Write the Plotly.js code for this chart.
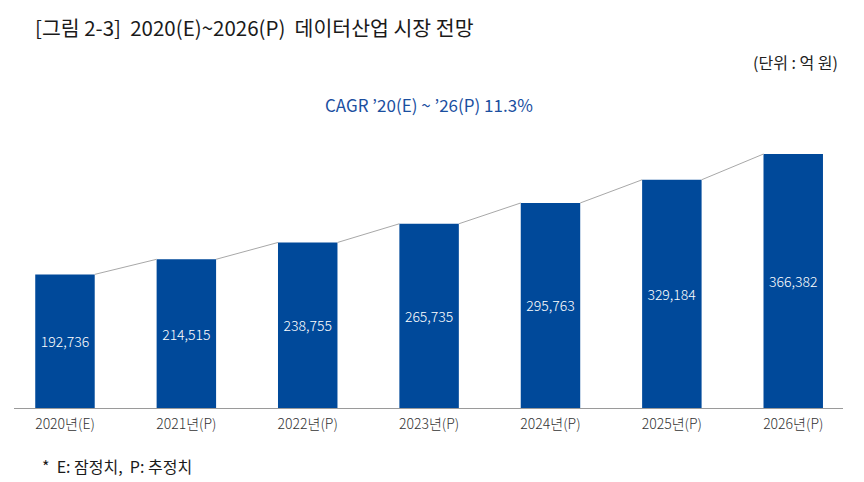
<!DOCTYPE html>
<html><head><meta charset="utf-8">
<script src="https://cdn.plot.ly/plotly-3.0.1.min.js"></script>
<style>html,body{margin:0;padding:0;background:#fff}#c{width:864px;height:482px}</style>
</head><body><div id="c"></div>
<script>
const categories = ['2020년(E)','2021년(P)','2022년(P)','2023년(P)','2024년(P)','2025년(P)','2026년(P)'];
const values = [192736, 214515, 238755, 265735, 295763, 329184, 366382];
const titleText = '[그림 2-3]  2020(E)~2026(P)  데이터산업 시장 전망';
const unitText = '(단위 : 억 원)';
const cagrText = 'CAGR ’20(E) ~ ’26(P) 11.3%';
const noteText = '*  E: 잠정치,  P: 추정치';

const idx = categories.map((_, i) => i);
const barW = 0.49;
const lx = [], ly = [];
for (let i = 0; i < values.length - 1; i++) {
  lx.push(i + barW / 2, i + 1 - barW / 2, null);
  ly.push(values[i], values[i + 1], null);
}
const FONT = '"Noto Sans CJK KR", "Noto Sans", sans-serif';
const traces = [
  {type:'bar', x: idx, y: values, width: barW, marker:{color:'#00499a'},
   text: values.map(v => v.toLocaleString('en-US')), textposition:'inside', insidetextanchor:'middle',
   textfont:{color:'#ffffff', size:14, family:FONT, weight:300}, hoverinfo:'none', cliponaxis:false},
  {type:'scatter', mode:'lines', x: lx, y: ly, line:{color:'#a8a8a8', width:1}, hoverinfo:'none'}
];
const layout = {
  width:864, height:482, margin:{l:14, r:21, t:140, b:74},
  paper_bgcolor:'#fff', plot_bgcolor:'#fff', showlegend:false,
  font:{family:FONT, color:'#222'},
  xaxis:{range:[-0.42, 6.41], tickvals: idx, ticktext: categories, showgrid:false, zeroline:false,
         showline:true, linecolor:'#9a9a9a', linewidth:1, ticks:'', ticklen:0, ticklabelstandoff:3,
         tickfont:{size:14, color:'#333', family:FONT, weight:300}},
  yaxis:{range:[0, 386580], visible:false, showgrid:false, zeroline:false},
  annotations:[
    {text:titleText, xref:'paper', yref:'paper', x:0, xshift:19, y:1, xanchor:'left', yanchor:'middle',
     showarrow:false, font:{size:20.5, color:'#1a1a1a', family:FONT}},
    {text:unitText, xref:'paper', yref:'paper', x:1, xshift:-3, y:1, xanchor:'right', yanchor:'middle',
     showarrow:false, font:{size:16, color:'#222', family:FONT}},
    {text:cagrText, xref:'paper', yref:'paper', x:0.5, xshift:0, y:1, xanchor:'center', yanchor:'middle',
     showarrow:false, font:{size:17, color:'#1b4f9f', family:FONT}},
    {text:noteText, xref:'paper', yref:'paper', x:0, xshift:26, y:0, xanchor:'left', yanchor:'middle',
     showarrow:false, font:{size:16, color:'#1a1a1a', family:FONT}}
  ]
};
const plotH = 482 - 140 - 74;
function yPix(py){ return (408 - py) / plotH; }
layout.annotations[0].y = yPix(27);
layout.annotations[1].y = yPix(62);
layout.annotations[2].y = yPix(104);
layout.annotations[3].y = yPix(466);
Plotly.newPlot('c', traces, layout, {displayModeBar:false, staticPlot:true});
</script></body></html>
